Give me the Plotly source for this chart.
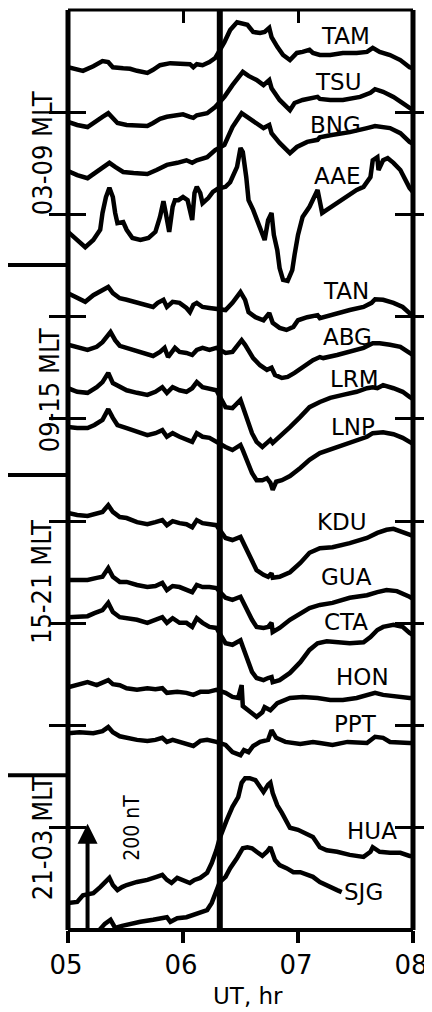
import plotly.graph_objects as go

# ---------------- data (UT in hours, H-component in nT incl. stacking offset) ----------------
TAM_UT = [5.00,5.13,5.22,5.30,5.35,5.39,5.48,5.54,5.60,5.69,5.74,5.80,5.89,5.95,6.00,6.06,6.09,6.12,6.17,6.23,6.28,6.36,6.41,6.47,6.56,6.61,6.67,6.71,6.75,6.77,6.82,6.87,6.93,6.99,7.04,7.10,7.13,7.19,7.28,7.39,7.51,7.60,7.65,7.71,7.80,7.89,7.97,8.00]
TAM_NT = [1688,1681,1690,1700,1698,1688,1686,1685,1681,1677,1683,1692,1696,1696,1696,1694,1688,1694,1692,1698,1706,1737,1761,1776,1771,1757,1755,1757,1765,1747,1728,1712,1702,1716,1718,1722,1716,1712,1712,1716,1716,1718,1726,1718,1712,1702,1688,1686]

TSU_UT = [5.00,5.08,5.17,5.25,5.30,5.35,5.39,5.43,5.51,5.60,5.69,5.74,5.80,5.86,5.93,6.00,6.06,6.09,6.12,6.21,6.28,6.36,6.43,6.52,6.57,6.64,6.70,6.75,6.77,6.84,6.93,6.97,7.04,7.13,7.17,7.19,7.28,7.39,7.54,7.63,7.67,7.74,7.83,7.91,7.97,8.00]
TSU_NT = [1581,1575,1571,1585,1591,1598,1589,1579,1575,1573,1573,1579,1587,1591,1594,1596,1591,1589,1594,1598,1610,1630,1653,1679,1671,1663,1653,1663,1647,1624,1604,1618,1624,1628,1630,1626,1624,1624,1630,1638,1645,1640,1630,1618,1608,1604]

BNG_UT = [5.00,5.08,5.17,5.25,5.30,5.36,5.41,5.48,5.57,5.69,5.77,5.86,5.95,6.03,6.08,6.12,6.21,6.28,6.36,6.43,6.51,6.57,6.64,6.70,6.75,6.77,6.84,6.93,6.99,7.08,7.17,7.19,7.28,7.45,7.60,7.67,7.80,7.89,7.97,8.00]
BNG_NT = [1485,1477,1471,1483,1493,1501,1493,1483,1481,1479,1487,1497,1501,1506,1501,1506,1512,1526,1536,1571,1598,1589,1579,1569,1575,1559,1540,1520,1532,1542,1546,1551,1555,1561,1569,1573,1569,1559,1542,1538]

AAE_UT = [5.00,5.08,5.15,5.22,5.28,5.30,5.33,5.36,5.39,5.41,5.43,5.48,5.51,5.56,5.63,5.70,5.76,5.80,5.83,5.85,5.88,5.91,5.93,5.96,6.00,6.04,6.08,6.10,6.12,6.15,6.17,6.22,6.26,6.30,6.37,6.41,6.47,6.50,6.52,6.55,6.57,6.61,6.67,6.71,6.74,6.77,6.79,6.82,6.84,6.87,6.91,6.95,6.97,7.00,7.04,7.10,7.17,7.21,7.25,7.34,7.43,7.51,7.57,7.63,7.65,7.69,7.70,7.74,7.78,7.83,7.89,7.93,7.97,8.00]
AAE_NT = [1366,1350,1336,1350,1370,1403,1434,1452,1434,1403,1383,1385,1370,1354,1350,1354,1366,1395,1426,1403,1366,1415,1428,1428,1434,1428,1389,1442,1454,1442,1422,1432,1444,1450,1454,1463,1493,1530,1522,1473,1428,1409,1375,1350,1389,1403,1360,1330,1295,1272,1270,1291,1321,1360,1395,1415,1448,1403,1409,1422,1434,1448,1454,1473,1506,1512,1487,1506,1510,1501,1487,1467,1452,1444]

TAN_UT = [5.00,5.08,5.15,5.22,5.30,5.35,5.39,5.45,5.51,5.60,5.69,5.74,5.78,5.83,5.86,5.91,5.97,6.03,6.06,6.09,6.12,6.17,6.23,6.29,6.37,6.43,6.50,6.54,6.57,6.63,6.70,6.75,6.78,6.84,6.90,6.96,7.00,7.08,7.17,7.19,7.22,7.34,7.45,7.57,7.64,7.67,7.74,7.83,7.91,7.97,8.00]
TAN_NT = [1246,1236,1229,1242,1252,1258,1246,1236,1233,1227,1221,1219,1227,1233,1219,1229,1227,1217,1209,1223,1227,1219,1217,1215,1213,1227,1248,1233,1209,1199,1193,1207,1188,1178,1174,1180,1193,1199,1203,1197,1199,1207,1213,1219,1227,1234,1233,1227,1219,1207,1203]

ABG_UT = [5.00,5.08,5.17,5.25,5.30,5.37,5.41,5.45,5.51,5.60,5.69,5.74,5.80,5.84,5.87,5.93,5.97,6.03,6.08,6.12,6.17,6.23,6.29,6.37,6.43,6.51,6.54,6.57,6.61,6.67,6.73,6.77,6.80,6.86,6.91,6.97,7.04,7.13,7.19,7.22,7.34,7.45,7.57,7.65,7.71,7.80,7.89,7.97,8.00]
ABG_NT = [1145,1141,1135,1141,1150,1170,1154,1143,1139,1131,1125,1123,1131,1139,1121,1139,1131,1129,1125,1135,1139,1135,1139,1129,1131,1154,1145,1135,1119,1105,1096,1100,1086,1080,1082,1090,1101,1115,1121,1119,1125,1131,1139,1148,1148,1145,1141,1129,1125]

LRM_UT = [5.00,5.08,5.17,5.25,5.30,5.35,5.39,5.45,5.51,5.60,5.69,5.76,5.82,5.86,5.91,5.97,6.03,6.08,6.12,6.17,6.22,6.29,6.37,6.43,6.50,6.52,6.56,6.60,6.64,6.69,6.73,6.76,6.78,6.84,6.93,7.02,7.10,7.19,7.28,7.39,7.51,7.60,7.65,7.69,7.74,7.83,7.91,7.97,8.00]
LRM_NT = [1060,1053,1051,1062,1072,1090,1070,1062,1056,1051,1047,1053,1062,1051,1062,1056,1053,1060,1072,1062,1060,1056,1023,1021,1037,1023,998,972,955,945,953,959,953,965,984,1004,1023,1033,1041,1047,1053,1060,1062,1060,1066,1060,1053,1043,1039]

LNP_UT = [5.00,5.08,5.17,5.23,5.30,5.35,5.39,5.43,5.51,5.60,5.69,5.76,5.82,5.86,5.91,5.97,6.03,6.08,6.12,6.17,6.23,6.29,6.37,6.43,6.50,6.52,6.56,6.60,6.64,6.69,6.73,6.76,6.78,6.81,6.86,6.93,7.02,7.10,7.19,7.30,7.45,7.60,7.65,7.74,7.83,7.91,7.97,8.00]
LNP_NT = [984,982,982,988,998,1019,1002,988,982,974,968,972,978,965,972,965,959,955,972,965,963,955,945,939,949,939,914,894,880,880,884,875,861,877,880,888,904,920,933,941,953,965,972,974,970,963,955,951]

KDU_UT = [5.00,5.08,5.17,5.25,5.30,5.35,5.39,5.45,5.51,5.60,5.69,5.76,5.82,5.86,5.91,5.97,6.03,6.08,6.12,6.17,6.23,6.29,6.37,6.43,6.50,6.52,6.56,6.60,6.64,6.70,6.74,6.77,6.78,6.84,6.93,7.02,7.10,7.19,7.30,7.45,7.60,7.69,7.77,7.83,7.91,7.97,8.00]
KDU_NT = [816,812,810,816,818,831,818,808,806,798,794,798,802,792,800,796,794,788,802,796,794,792,767,763,769,759,740,720,704,695,691,698,689,691,700,718,738,747,749,757,767,777,783,785,779,773,771]

GUA_UT = [5.00,5.08,5.17,5.25,5.30,5.35,5.39,5.45,5.51,5.60,5.69,5.76,5.82,5.86,5.91,5.97,6.03,6.08,6.12,6.17,6.23,6.29,6.37,6.43,6.50,6.52,6.56,6.60,6.64,6.70,6.74,6.77,6.78,6.84,6.93,7.02,7.10,7.19,7.30,7.45,7.60,7.69,7.77,7.86,7.91,7.97,8.00]
GUA_NT = [685,685,685,689,691,708,691,681,681,675,671,673,679,665,673,671,665,661,675,671,671,669,650,646,652,642,626,607,593,591,593,601,583,591,607,618,630,636,640,650,655,661,665,663,659,652,648]

CTA_UT = [5.00,5.08,5.17,5.23,5.30,5.35,5.39,5.45,5.51,5.60,5.69,5.76,5.82,5.86,5.91,5.97,6.03,6.08,6.12,6.17,6.23,6.29,6.37,6.43,6.50,6.52,6.56,6.60,6.64,6.70,6.74,6.77,6.78,6.84,6.93,7.02,7.10,7.17,7.25,7.34,7.45,7.57,7.63,7.69,7.74,7.83,7.91,7.97,8.00]
CTA_NT = [612,612,614,620,626,640,622,612,610,607,601,607,612,601,610,601,601,593,610,601,593,591,561,558,567,554,528,505,493,489,493,495,485,489,503,524,548,561,565,563,561,563,573,587,593,597,593,581,577]

HON_UT = [5.00,5.08,5.17,5.25,5.30,5.35,5.39,5.45,5.51,5.60,5.69,5.76,5.82,5.86,5.95,6.03,6.09,6.15,6.22,6.29,6.37,6.43,6.48,6.50,6.51,6.52,6.56,6.60,6.64,6.69,6.71,6.76,6.82,6.93,7.04,7.17,7.28,7.39,7.51,7.63,7.67,7.74,7.86,7.97,8.00]
HON_NT = [475,479,485,479,483,489,481,479,473,470,473,471,473,464,466,464,460,466,466,470,464,456,454,473,479,438,430,424,417,426,436,430,444,454,456,454,450,450,454,460,464,460,456,454,454]

PPT_UT = [5.00,5.10,5.22,5.30,5.35,5.39,5.45,5.51,5.60,5.69,5.76,5.82,5.86,5.91,5.97,6.03,6.09,6.15,6.21,6.29,6.37,6.43,6.50,6.53,6.57,6.61,6.67,6.74,6.77,6.81,6.89,7.02,7.13,7.19,7.30,7.43,7.54,7.60,7.67,7.74,7.80,7.89,7.97,8.00]
PPT_NT = [385,387,385,389,397,387,379,376,372,370,372,376,368,372,368,364,360,370,372,368,362,348,342,352,348,360,368,372,391,376,368,364,368,366,362,368,368,366,378,376,368,366,366,366]

HUA_UT = [5.00,5.08,5.13,5.22,5.28,5.32,5.36,5.39,5.43,5.47,5.51,5.60,5.69,5.77,5.82,5.86,5.90,5.95,6.00,6.06,6.10,6.15,6.21,6.25,6.29,6.32,6.38,6.43,6.48,6.51,6.54,6.58,6.63,6.67,6.70,6.74,6.76,6.78,6.82,6.86,6.93,7.00,7.08,7.13,7.19,7.25,7.34,7.45,7.57,7.63,7.65,7.71,7.80,7.89,7.97,8.00]
HUA_NT = [53,55,68,72,84,94,102,88,78,84,88,94,98,104,108,98,92,102,98,92,98,102,112,131,156,180,215,241,260,288,297,297,293,278,270,284,288,268,244,229,200,196,186,182,162,156,153,147,143,153,162,153,151,151,145,145]

SJG_UT = [5.00,5.10,5.21,5.28,5.32,5.37,5.41,5.47,5.57,5.63,5.74,5.86,5.89,5.95,6.03,6.09,6.15,6.21,6.25,6.29,6.32,6.37,6.41,6.47,6.52,6.56,6.60,6.64,6.69,6.73,6.76,6.80,6.84,6.90,6.96,7.02,7.08,7.13,7.19,7.24,7.28,7.34,7.38]
SJG_NT = [-39,-31,-16,0,12,20,4,8,14,16,20,25,16,23,25,29,33,39,53,78,94,104,121,141,160,162,160,153,145,153,162,137,127,121,113,113,108,104,94,88,84,78,74]

STATIONS = ["TAM", "TSU", "BNG", "AAE", "TAN", "ABG", "LRM", "LNP",
            "KDU", "GUA", "CTA", "HON", "PPT", "HUA", "SJG"]
SERIES = {
    "TAM": (TAM_UT, TAM_NT), "TSU": (TSU_UT, TSU_NT), "BNG": (BNG_UT, BNG_NT),
    "AAE": (AAE_UT, AAE_NT), "TAN": (TAN_UT, TAN_NT), "ABG": (ABG_UT, ABG_NT),
    "LRM": (LRM_UT, LRM_NT), "LNP": (LNP_UT, LNP_NT), "KDU": (KDU_UT, KDU_NT),
    "GUA": (GUA_UT, GUA_NT), "CTA": (CTA_UT, CTA_NT), "HON": (HON_UT, HON_NT),
    "PPT": (PPT_UT, PPT_NT), "HUA": (HUA_UT, HUA_NT), "SJG": (SJG_UT, SJG_NT),
}

# station-name label anchors (UT, nT)
LABEL_UT = [7.41, 7.35, 7.33, 7.34, 7.42, 7.43, 7.49, 7.48, 7.38, 7.42, 7.42, 7.56, 7.50, 7.64, 7.57]
LABEL_NT = [1749, 1659, 1575, 1475, 1250, 1160, 1078, 984, 798, 691, 603, 495, 403, 194, 74]

# MLT sector groups: label, centre (nT)
GROUP_NAMES = ["03-09 MLT", "09-15 MLT", "15-21 MLT", "21-03 MLT"]
GROUP_CENTER_NT = [1520, 1056, 681, 180]
GROUP_BOUNDS_NT = [1301, 890, 303]

ONSET_UT = 6.32
SCALE_NT = 200
SCALE_UT = 5.17
X_TICKS = [5, 6, 7, 8]
X_TICKTEXT = ["05", "06", "07", "08"]
TOP_TICKS = [6, 7]
Y_TICKS = [200, 400, 600, 800, 1000, 1200, 1400, 1600]

# ---------------- figure ----------------
# The page body has an 8 px default margin, so the figure is 8 px smaller
# and shifted; the plot area then sits at page x 68-413, y 10-930.
W, H = 424, 1004
ML, MR, MT, MB = 60, 19, 2, 82
NARROW = "Liberation Sans Narrow, DejaVu Sans Condensed, Arial Narrow, sans-serif"
WIDE = "DejaVu Sans, Verdana, sans-serif"

fig = go.Figure()
for name in STATIONS:
    ut, nt = SERIES[name]
    assert len(ut) == len(nt), name
    fig.add_trace(go.Scatter(x=ut, y=nt, mode="lines", name=name,
                             line=dict(color="black", width=4.5),
                             showlegend=False, hoverinfo="skip"))

annotations = []
for name, lt, lv in zip(STATIONS, LABEL_UT, LABEL_NT):
    annotations.append(dict(x=lt, y=lv, xref="x", yref="y", text=name, showarrow=False,
                            font=dict(family=WIDE, size=23, color="black"),
                            xanchor="center", yanchor="middle"))

grp_x = [-0.075, -0.055, -0.075, -0.075]
for g, gy, gx in zip(GROUP_NAMES, GROUP_CENTER_NT, grp_x):
    annotations.append(dict(x=gx, y=gy, xref="paper", yref="y", text=g, showarrow=False,
                            textangle=-90, font=dict(family=NARROW, size=27, color="black"),
                            xanchor="center", yanchor="middle"))

# 200 nT scale arrow
annotations.append(dict(x=SCALE_UT, y=SCALE_NT + 8, ax=SCALE_UT, ay=0, xref="x", yref="y",
                        axref="x", ayref="y", text="", showarrow=True, arrowhead=2,
                        arrowsize=1, arrowwidth=4, arrowcolor="black", standoff=0))
annotations.append(dict(x=5.557, y=SCALE_NT, xref="x", yref="y", text="200 nT",
                        showarrow=False, textangle=-90,
                        font=dict(family=NARROW, size=21, color="black"),
                        xanchor="center", yanchor="middle"))

annotations.append(dict(x=0.522, y=-0.0715, xref="paper", yref="paper", text="UT, hr",
                        showarrow=False, borderpad=0,
                        font=dict(family=WIDE, size=23, color="black"),
                        xanchor="center", yanchor="middle"))

shapes = [dict(type="line", xref="x", yref="paper", x0=ONSET_UT, x1=ONSET_UT, y0=0, y1=1,
               line=dict(color="black", width=6), layer="above")]
for b in GROUP_BOUNDS_NT:
    shapes.append(dict(type="line", xref="paper", yref="y", x0=-0.177, x1=0, y0=b, y1=b,
                       line=dict(color="black", width=4), layer="above"))
# plot frame (centred on the plot-area edges)
frame = [((0, 0), (0, 1), 5), ((1, 1), (0, 1), 5), ((0, 1), (1, 1), 3), ((0, 1), (0, 0), 4)]
for (x0, x1), (y0, y1), w in frame:
    shapes.append(dict(type="line", xref="paper", yref="paper", x0=x0, x1=x1, y0=y0, y1=y1,
                       line=dict(color="black", width=w), layer="above"))

fig.update_layout(
    width=W, height=H,
    margin=dict(l=ML, r=MR, t=MT, b=MB, pad=0, autoexpand=False),
    paper_bgcolor="white", plot_bgcolor="white",
    showlegend=False,
    annotations=annotations,
    shapes=shapes,
    xaxis=dict(range=[5, 8], tickvals=X_TICKS, ticktext=X_TICKTEXT, automargin=False,
               ticks="outside", ticklen=12, tickwidth=4, tickcolor="black",
               ticklabelshift=-2,
               showline=False, showgrid=False, zeroline=False,
               tickfont=dict(family=WIDE, size=26, color="black")),
    xaxis2=dict(range=[5, 8], overlaying="x", side="top", matches="x", automargin=False,
                tickvals=TOP_TICKS, ticks="inside", ticklen=13, tickwidth=3,
                tickcolor="black", showticklabels=False,
                showline=False, showgrid=False, zeroline=False),
    yaxis=dict(range=[0, 1800], tickvals=Y_TICKS, ticks="inside", ticklen=18, automargin=False,
               tickwidth=3, tickcolor="black", showticklabels=False,
               showline=False, mirror="allticks",
               showgrid=False, zeroline=False),
)
# invisible trace so the top axis (xaxis2) is drawn
fig.add_trace(go.Scatter(x=[5, 8], y=[None, None], xaxis="x2", yaxis="y",
                         mode="lines", showlegend=False, hoverinfo="skip"))

fig.write_html("out.html")
